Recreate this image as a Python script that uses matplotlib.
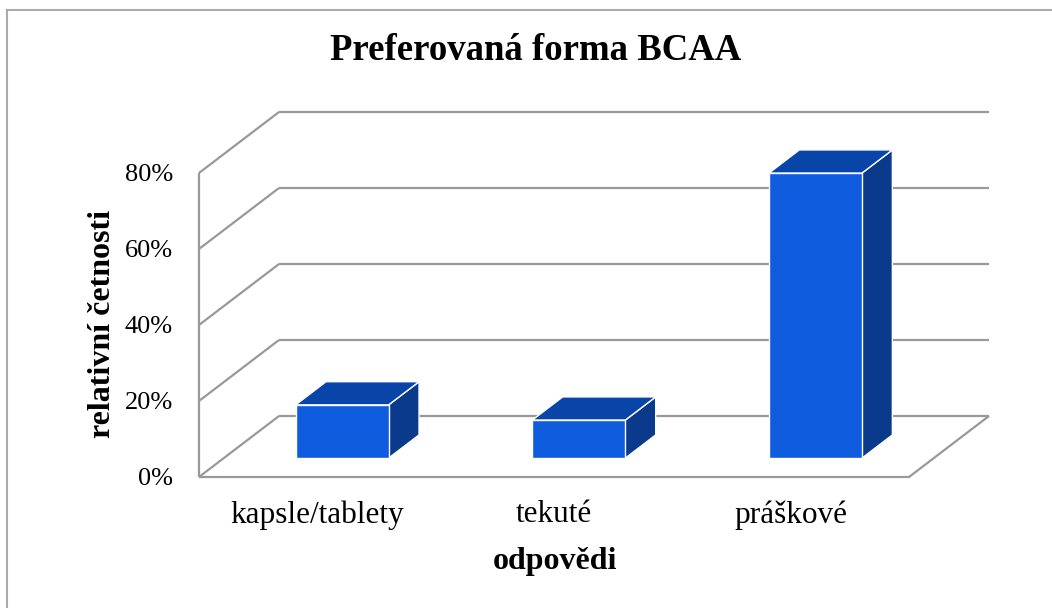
import matplotlib.pyplot as plt
from matplotlib.patches import Polygon

# data
categories = ["kapsle/tablety", "tekuté", "práškové"]
values = [14, 10, 75]
y_ticks = [0, 20, 40, 60, 80]
title = "Preferovaná forma BCAA"
x_title = "odpovědi"
y_title = "relativní četnosti"

plt.rcParams['font.family'] = ['Liberation Serif', 'DejaVu Serif']

W, H = 1052, 608
fig = plt.figure(figsize=(W / 100, H / 100), dpi=100)
ax = fig.add_axes([0, 0, 1, 1])

# pixel geometry of the front plane (for axis limits only)
px_x0, px_x3 = 199, 909
px_y0, px_y80 = 477, 173
sx = (px_x3 - px_x0) / 3.0
sy = (px_y0 - px_y80) / 80.0
ax.set_xlim(-px_x0 / sx, (W - px_x0) / sx)
ax.set_ylim(-(H - px_y0) / sy, px_y0 / sy)
ax.axis('off')

# oblique depth offset (full depth) in data units
DX = 80 / sx
DY = 61 / sy


def proj(x, y, d):
    return (x + d * DX, y + d * DY)


grid_kw = dict(color='#999999', lw=1.6, solid_capstyle='butt', zorder=1)
n = len(categories)

# back wall gridlines + left wall diagonals
for t in y_ticks:
    a = proj(0, t, 1)
    b = proj(n, t, 1)
    ax.plot([a[0], b[0]], [a[1], b[1]], **grid_kw)
    c = proj(0, t, 0)
    ax.plot([c[0], a[0]], [c[1], a[1]], **grid_kw)

# left front vertical axis
ax.plot([0, 0], [0, y_ticks[-1]], **grid_kw)
# floor front and right edges
p = proj(n, 0, 1)
ax.plot([0, n, p[0]], [0, 0, p[1]], **grid_kw)

# bars
bar_w = 0.393
d0, d1 = 0.31, 0.69
front_c = '#0f5cde'
top_c = '#0945a8'
side_c = '#0a3a8c'
for i, v in enumerate(values):
    xl = i + 0.5 - bar_w / 2
    xr = i + 0.5 + bar_w / 2
    front = [proj(xl, 0, d0), proj(xr, 0, d0), proj(xr, v, d0), proj(xl, v, d0)]
    top = [proj(xl, v, d0), proj(xr, v, d0), proj(xr, v, d1), proj(xl, v, d1)]
    side = [proj(xr, 0, d0), proj(xr, 0, d1), proj(xr, v, d1), proj(xr, v, d0)]
    for pts, c in [(side, side_c), (top, top_c), (front, front_c)]:
        ax.add_patch(Polygon(pts, closed=True, facecolor=c, edgecolor='white',
                             lw=1.0, joinstyle='miter', zorder=3))

# y tick labels
for t in y_ticks:
    ax.text(-26 / sx, t - 0.6, f"{t}%", ha='right', va='center', fontsize=19)

# category labels
for i, cat in enumerate(categories):
    ax.text(i + 0.5, -38 / sy, cat, ha='center', va='center', fontsize=22.5)

# titles
fig.text(536 / W, 1 - 50 / H, title, ha='center', va='center',
         fontsize=26.5, fontweight='bold')
fig.text(555 / W, 1 - 561 / H, x_title, ha='center', va='center',
         fontsize=23, fontweight='bold')
fig.text(103 / W, 1 - 324 / H, y_title, ha='center', va='center',
         fontsize=23, fontweight='bold', rotation=90)

# chart border (left and top visible)
border_kw = dict(color='#ababab', lw=1.5, transform=fig.transFigure)
fig.add_artist(plt.Line2D([7 / W, 7 / W], [0, 1 - 10 / H], **border_kw))
fig.add_artist(plt.Line2D([7 / W, 1], [1 - 10 / H, 1 - 10 / H], **border_kw))

fig.savefig("out.png", dpi=100, facecolor='white')
